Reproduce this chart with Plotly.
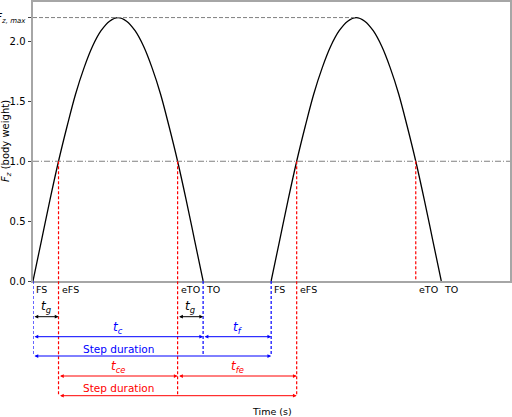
import plotly.graph_objects as go

# ── gait events (s) ───────────────────────────────────────────────────────────
FS = [0.0, 0.35]        # foot strike
EFS = [0.0375, 0.3875]  # effective foot strike (Fz crosses body weight)
ETO = [0.2125, 0.5625]  # effective toe-off
TO = [0.25, 0.6]        # toe-off

STANCE_T = [0.0, 0.0125, 0.025, 0.0375, 0.05, 0.0625, 0.075, 0.0875, 0.1, 0.1125,
            0.125, 0.1375, 0.15, 0.1625, 0.175, 0.1875, 0.2, 0.2125, 0.225, 0.2375, 0.25]
STANCE_F = [0.0, 0.34, 0.68, 1.0, 1.29, 1.56, 1.78, 1.96, 2.09, 2.17,
            2.2, 2.17, 2.09, 1.96, 1.78, 1.56, 1.29, 1.0, 0.68, 0.34, 0.0]

FZ_MAX = 2.2
BODY_WEIGHT = 1.0
PEAK_T2 = 0.475

Y_TICKS = [0.0, 0.5, 1.0, 1.5, 2.0, FZ_MAX]
Y_TICKTEXT = ["0.0", "0.5", "1.0", "1.5", "2.0", "<i>F</i><sub><i>z, max</i></sub>"]
EVENT_NAMES = ["FS", "eFS", "eTO", "TO"]

X_MAX = 0.701
Y_MAX = 2.33

# ── page geometry ─────────────────────────────────────────────────────────────
W, H = 512, 417
M_L, M_R, M_T, M_B = 33, 2, 2, 136
PLOT_H = H - M_T - M_B
PLOT_W = W - M_L - M_R

FONT = "DejaVu Sans"
BLUE = "#0000ff"
RED = "#ff0000"


def row(py):
    """Paper y for a pixel row of the page (rows below the axes are < 0)."""
    return (H - M_B - py) / PLOT_H


fig = go.Figure()

# force curve, one segment per stance
xs, ys = [], []
for start in FS:
    xs += [start + t for t in STANCE_T] + [None]
    ys += STANCE_F + [None]
fig.add_trace(go.Scatter(
    x=xs, y=ys, mode="lines", line=dict(color="black", width=1.3, shape="spline"),
    showlegend=False, hoverinfo="skip",
))

shapes = []
# reference lines
shapes.append(dict(type="line", xref="x", yref="y", x0=0, x1=X_MAX,
                   y0=BODY_WEIGHT, y1=BODY_WEIGHT,
                   line=dict(color="#808080", width=1, dash="6px,2px,1px,2px")))
shapes.append(dict(type="line", xref="x", yref="y", x0=0, x1=PEAK_T2,
                   y0=FZ_MAX, y1=FZ_MAX,
                   line=dict(color="#808080", width=1, dash="4px,2px")))

# blue (true contact) verticals
for t in [FS[0], TO[0], FS[1]]:
    shapes.append(dict(type="line", xref="x", yref="paper", x0=t, x1=t,
                       y0=0, y1=row(356),
                       line=dict(color=BLUE, width=1.2, dash="3px,2px")))
# red (effective contact) verticals
for t in [EFS[0], ETO[0], EFS[1]]:
    shapes.append(dict(type="line", xref="x", yref="paper", x0=t, x1=t,
                       y0=BODY_WEIGHT / Y_MAX, y1=row(396),
                       line=dict(color=RED, width=1.2, dash="3px,2px")))
shapes.append(dict(type="line", xref="x", yref="paper", x0=ETO[1], x1=ETO[1],
                   y0=BODY_WEIGHT / Y_MAX, y1=0,
                   line=dict(color=RED, width=1.2, dash="3px,2px")))

ann = []

# event labels under the axis
for name, times in zip(EVENT_NAMES, [FS, EFS, ETO, TO]):
    for t in times:
        ann.append(dict(x=t, y=row(289.5), xref="x", yref="paper", text=name,
                        showarrow=False, xanchor="left", yanchor="middle", xshift=1,
                        font=dict(family=FONT, size=9.5, color="black")))


def arrow(x0, x1, py, color):
    ann.append(dict(x=x1, y=row(py), xref="x", yref="paper",
                    ax=x0, ay=0, axref="x", ayref="pixel", text="",
                    showarrow=True, arrowside="end+start",
                    arrowhead=2, startarrowhead=2, arrowsize=0.75, startarrowsize=0.75,
                    arrowwidth=1, arrowcolor=color, standoff=0, startstandoff=0))


def label(x0, x1, py, text, color, size=12):
    ann.append(dict(x=(x0 + x1) / 2, y=row(py), xref="x", yref="paper", text=text,
                    showarrow=False, xanchor="center", yanchor="middle",
                    font=dict(family=FONT, size=size, color=color)))


# ground-contact gaps
arrow(FS[0], EFS[0], 316.7, "black")
arrow(ETO[0], TO[0], 316.7, "black")
label(FS[0], EFS[0], 307, "<i>t</i><sub><i>g</i></sub>", "black")
label(ETO[0], TO[0], 307, "<i>t</i><sub><i>g</i></sub>", "black")

# true contact / flight
arrow(FS[0], TO[0], 336.7, BLUE)
arrow(TO[0], FS[1], 336.7, BLUE)
label(FS[0], TO[0], 328, "<i>t</i><sub><i>c</i></sub>", BLUE)
label(TO[0], FS[1], 328, "<i>t</i><sub><i>f</i></sub>", BLUE)
arrow(FS[0], FS[1], 356, BLUE)
label(FS[0], TO[0], 348.5, "Step duration", BLUE, 10.5)

# effective contact / flight
arrow(EFS[0], ETO[0], 376, RED)
arrow(ETO[0], EFS[1], 376, RED)
label(EFS[0], ETO[0], 367.5, "<i>t</i><sub><i>ce</i></sub>", RED)
label(ETO[0], EFS[1], 367.5, "<i>t</i><sub><i>fe</i></sub>", RED)
arrow(EFS[0], EFS[1], 395.7, RED)
label(EFS[0], ETO[0], 388, "Step duration", RED, 10.5)

# axis titles
ann.append(dict(x=0.5, y=row(411), xref="paper", yref="paper", text="Time (s)",
                showarrow=False, xanchor="center", yanchor="middle",
                font=dict(family=FONT, size=9.5, color="black")))
ann.append(dict(x=(6.5 - M_L) / PLOT_W, y=0.5, xref="paper", yref="paper",
                text="<i>F</i><sub><i>z</i></sub> (body weight)", textangle=-90,
                showarrow=False, xanchor="center", yanchor="middle",
                font=dict(family=FONT, size=10, color="black")))

fig.update_layout(
    width=W, height=H,
    margin=dict(l=M_L, r=M_R, t=M_T, b=M_B, autoexpand=False),
    plot_bgcolor="white", paper_bgcolor="white",
    font=dict(family=FONT, size=10, color="black"),
    shapes=shapes, annotations=ann, showlegend=False,
)
fig.update_xaxes(range=[0, X_MAX], showgrid=False, zeroline=False,
                 showticklabels=False, ticks="", automargin=False,
                 showline=True, mirror=True, linecolor="#a6a6a6", linewidth=2)
fig.update_yaxes(range=[0, Y_MAX], showgrid=False, zeroline=False, automargin=False,
                 tickvals=Y_TICKS, ticktext=Y_TICKTEXT,
                 ticks="outside", ticklen=3.5, tickwidth=1, tickcolor="#444",
                 tickfont=dict(family=FONT, size=10, color="black"),
                 showline=True, mirror=True, linecolor="#a6a6a6", linewidth=2)

# the page body has an 8px default margin; drop it so the figure sits at 0,0
fig.write_html("out.html", config={"displayModeBar": False},
               post_script="document.body.style.margin = '0';")
